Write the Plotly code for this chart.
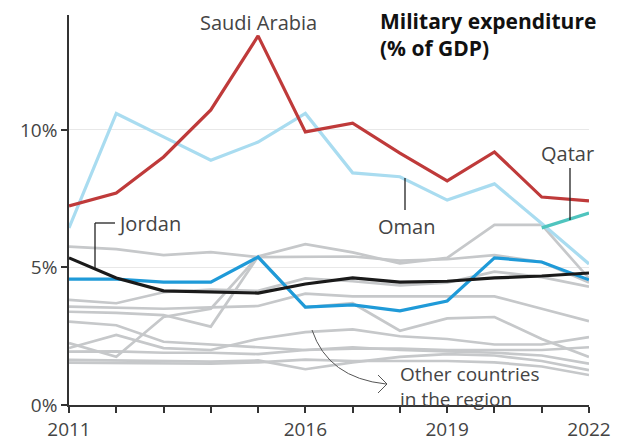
import plotly.graph_objects as go

years = list(range(2011, 2023))

saudi_arabia = [7.24, 7.71, 9.02, 10.73, 13.42, 9.93, 10.25, 9.16, 8.15, 9.20, 7.56, 7.42]
oman = [6.44, 10.60, 9.75, 8.90, 9.56, 10.60, 8.44, 8.30, 7.45, 8.04, 6.60, 5.13]
qatar = [None, None, None, None, None, None, None, None, None, None, 6.44, 6.98]
jordan = [5.35, 4.62, 4.15, 4.11, 4.07, 4.40, 4.62, 4.47, 4.50, 4.62, 4.69, 4.80]
blue_country = [4.58, 4.58, 4.47, 4.47, 5.38, 3.56, 3.64, 3.42, 3.78, 5.35, 5.20, 4.55]

gray_1 = [5.76, 5.67, 5.45, 5.56, 5.38, 5.40, 5.40, 5.25, 5.30, 5.45, 5.20, 4.45]
gray_2 = [3.39, 3.35, 3.27, 2.85, 5.40, 5.85, 5.55, 5.15, 5.35, 6.55, 6.55, 4.60]
gray_3 = [3.82, 3.70, 4.10, 4.20, 4.15, 4.60, 4.50, 4.35, 4.45, 4.85, 4.65, 4.30]
gray_4 = [3.58, 3.55, 3.50, 3.55, 3.60, 4.05, 3.95, 3.95, 3.95, 3.95, 3.50, 3.05]
gray_5 = [2.25, 1.75, 3.20, 3.50, 5.40, 3.55, 3.70, 2.70, 3.15, 3.20, 2.40, 1.75]
gray_6 = [3.03, 2.90, 2.30, 2.20, 2.10, 2.00, 2.05, 2.05, 2.00, 2.00, 2.00, 2.10]
gray_7 = [2.07, 2.55, 2.07, 2.00, 2.40, 2.65, 2.75, 2.50, 2.40, 2.20, 2.20, 2.47]
gray_8 = [1.94, 1.95, 1.90, 1.90, 1.85, 2.00, 2.10, 2.00, 1.95, 1.90, 1.80, 1.50]
gray_9 = [1.64, 1.62, 1.60, 1.58, 1.62, 1.30, 1.55, 1.75, 1.85, 1.80, 1.60, 1.27]
gray_10 = [1.54, 1.52, 1.50, 1.50, 1.55, 1.65, 1.60, 1.60, 1.60, 1.55, 1.40, 1.09]
grays = [gray_1, gray_2, gray_3, gray_4, gray_5, gray_6, gray_7, gray_8, gray_9, gray_10]

x_tick_vals = years
x_tick_text = ["2011", "", "", "", "", "2016", "", "", "2019", "", "", "2022"]
y_tick_vals = [0, 5, 10]
y_tick_text = ["0%", "5%", "10%"]

FONT = "Open Sans"
TXT = "#444444"

# the page keeps the browser's 8px body margin; size the figure so the page is 622x443
OFF = 8
W, H = 614, 435
PX0, PX1, PY0, PY1 = 69, 589, 15, 405  # plot area in page pixels
L, R, T, B = PX0 - OFF, W - (PX1 - OFF), PY0 - OFF, H - (PY1 - OFF)
Y_MAX = 14.18


def px(x_pix, y_pix):
    xd = 2011 + (x_pix - PX0) / (PX1 - PX0) * 11
    yd = (PY1 - y_pix) / (PY1 - PY0) * Y_MAX
    return xd, yd


fig = go.Figure()
for g in grays:
    fig.add_trace(go.Scatter(x=years, y=g, mode="lines",
                             line=dict(color="#c6c8ca", width=2.7),
                             hoverinfo="skip", showlegend=False))

fig.add_trace(go.Scatter(x=years, y=blue_country, mode="lines",
                         line=dict(color="#1f9ad8", width=3.2), showlegend=False))
fig.add_trace(go.Scatter(x=years, y=jordan, mode="lines",
                         line=dict(color="#1a1a1a", width=3.2), showlegend=False))
fig.add_trace(go.Scatter(x=years, y=oman, mode="lines",
                         line=dict(color="#a9dcf0", width=3.2), showlegend=False))
fig.add_trace(go.Scatter(x=years, y=qatar, mode="lines",
                         line=dict(color="#4fc4be", width=3.2), showlegend=False))
fig.add_trace(go.Scatter(x=years, y=saudi_arabia, mode="lines",
                         line=dict(color="#bf3a3a", width=3.2), showlegend=False))

shapes = []


def seg(p1, p2, color="#222222", width=1.3):
    x0, y0 = px(*p1)
    x1, y1 = px(*p2)
    shapes.append(dict(type="line", xref="x", yref="y", x0=x0, y0=y0, x1=x1, y1=y1,
                       line=dict(color=color, width=width), layer="above"))


# Jordan leader
seg((95, 223), (115, 223))
seg((95, 223), (95, 268))
# Oman leader
seg((405, 178), (405, 210))
# Qatar leader
seg((570, 168), (570, 220))

# curved arrow for other countries
a = px(312, 330)
c = px(328, 378)
e = px(386, 384)
shapes.append(dict(type="path", xref="x", yref="y",
                   path=f"M {a[0]},{a[1]} Q {c[0]},{c[1]} {e[0]},{e[1]}",
                   line=dict(color="#555555", width=1)))
h1 = px(378, 375)
h2 = px(387, 384)
h3 = px(378, 393)
shapes.append(dict(type="path", xref="x", yref="y",
                   path=f"M {h1[0]},{h1[1]} L {h2[0]},{h2[1]} L {h3[0]},{h3[1]}",
                   line=dict(color="#555555", width=1)))

annotations = []


def text(s, p, size=20, color=TXT, xanchor="center", yanchor="middle", bold=False):
    xd, yd = px(*p)
    annotations.append(dict(text=f"<b>{s}</b>" if bold else s, x=xd, y=yd, xref="x", yref="y",
                            showarrow=False, xanchor=xanchor, yanchor=yanchor, align="left",
                            font=dict(family=FONT, size=size, color=color)))


text("Saudi Arabia", (258, 22))
text("Military expenditure<br>(% of GDP)", (378, 34), size=21, color="#111111",
     xanchor="left", bold=True)
text("Jordan", (116, 223), xanchor="left")
text("Oman", (406, 226))
text("Qatar", (567, 153))
text("Other countries<br>in the region", (398, 386), size=19, xanchor="left")

fig.update_layout(
    width=W, height=H,
    margin=dict(l=L, r=R, t=T, b=B, autoexpand=False),
    paper_bgcolor="white", plot_bgcolor="white",
    font=dict(family=FONT, size=20, color=TXT),
    shapes=shapes, annotations=annotations,
    xaxis=dict(range=[2011, 2022], tickvals=x_tick_vals, ticktext=x_tick_text,
               showline=True, linecolor="#333333", linewidth=1.5, automargin=False,
               ticks="outside", ticklen=6, tickcolor="#333333", tickwidth=1.5,
               showgrid=False, zeroline=False, tickfont=dict(size=19, color=TXT)),
    yaxis=dict(range=[0, Y_MAX], tickvals=y_tick_vals, ticktext=y_tick_text,
               showline=True, linecolor="#333333", linewidth=1.5, automargin=False,
               ticks="outside", ticklen=6, tickcolor="#333333", tickwidth=1.5,
               showgrid=True, gridcolor="#e8e8e8", gridwidth=1, zeroline=False,
               tickfont=dict(size=19, color=TXT)),
)

fig.write_html("out.html", config={"displayModeBar": False})
